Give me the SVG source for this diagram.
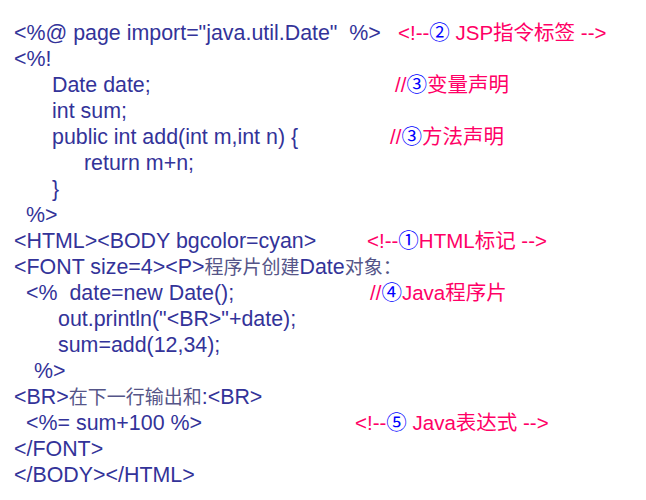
<svg xmlns="http://www.w3.org/2000/svg" width="646" height="500" viewBox="0 0 646 500">
<style>
text{font-family:"Liberation Sans","Noto Sans CJK SC",sans-serif;font-size:21.4px;fill:#333399;white-space:pre}
.c{fill:#FF0066;font-size:20.5px}
.n{fill:#0000FF}
.g{fill:#555588;font-size:19px}
</style>
<rect width="646" height="500" fill="#fff"/>
<g xml:space="preserve">
<text x="14" y="40">&lt;%@ page import="java.util.Date"  %&gt;</text>
<text x="398" y="40" class="c">&lt;!--<tspan class="n">②</tspan> JSP指令标签 --&gt;</text>
<text x="14" y="66">&lt;%!</text>
<text x="52" y="92">Date date;</text>
<text x="395" y="92" class="c">//<tspan class="n">③</tspan>变量声明</text>
<text x="52" y="118">int sum;</text>
<text x="52" y="144">public int add(int m,int n) {</text>
<text x="390" y="144" class="c">//<tspan class="n">③</tspan>方法声明</text>
<text x="84" y="170">return m+n;</text>
<text x="52" y="196">}</text>
<text x="26" y="222">%&gt;</text>
<text x="14" y="248">&lt;HTML&gt;&lt;BODY bgcolor=cyan&gt;</text>
<text x="367" y="248" class="c">&lt;!--<tspan class="n">①</tspan>HTML标记 --&gt;</text>
<text x="14" y="274">&lt;FONT size=4&gt;&lt;P&gt;<tspan class="g">程序片创建</tspan>Date<tspan class="g">对象：</tspan></text>
<text x="26" y="300">&lt;%  date=new Date();</text>
<text x="370" y="300" class="c">//<tspan class="n">④</tspan>Java程序片</text>
<text x="58" y="326">out.println("&lt;BR&gt;"+date);</text>
<text x="58" y="352">sum=add(12,34);</text>
<text x="34" y="378">%&gt;</text>
<text x="14" y="404">&lt;BR&gt;<tspan class="g">在下一行输出和</tspan>:&lt;BR&gt;</text>
<text x="26" y="430">&lt;%= sum+100 %&gt;</text>
<text x="355" y="430" class="c">&lt;!--<tspan class="n">⑤</tspan> Java表达式 --&gt;</text>
<text x="14" y="456">&lt;/FONT&gt;</text>
<text x="14" y="482">&lt;/BODY&gt;&lt;/HTML&gt;</text>
</g>
</svg>
